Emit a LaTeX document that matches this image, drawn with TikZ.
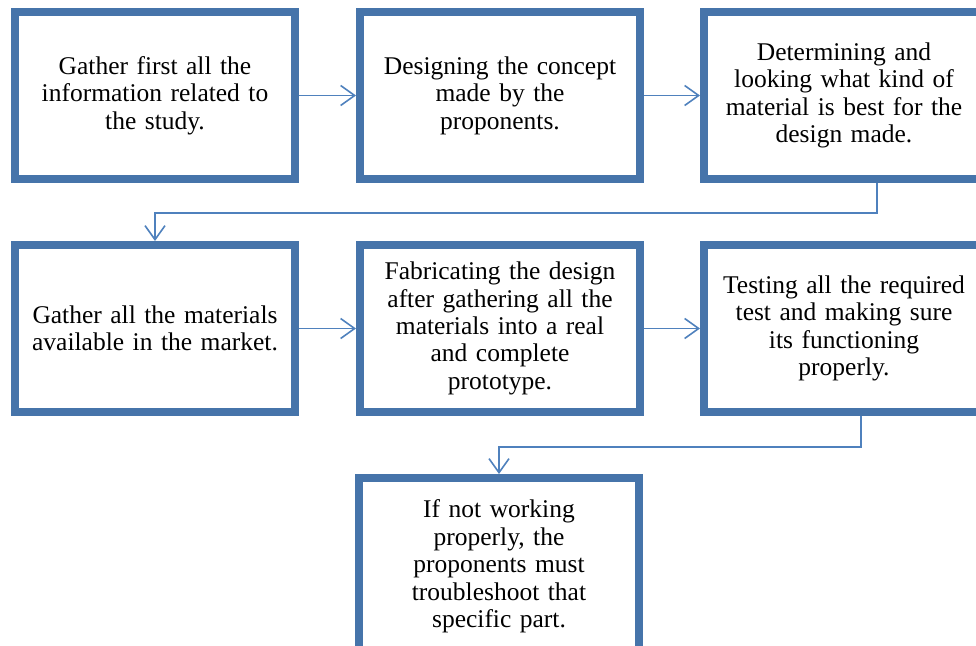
\documentclass[tikz,border=0pt]{standalone}
\usepackage{fontspec}
\setmainfont{Liberation Serif}
\usetikzlibrary{arrows.meta,shadows}
\definecolor{boxblue}{RGB}{70,116,170}
\definecolor{lineblue}{RGB}{79,129,189}

\begin{document}
\begin{tikzpicture}[x=1pt, y=-1pt,
    stage/.style={draw=boxblue, line width=8pt, fill=white, minimum width=280pt, minimum height=167pt,
        text width=276pt, align=center, inner sep=0pt, font=\fontsize{25.5}{27.4}\selectfont,
        drop shadow={shadow xshift=2pt, shadow yshift=-3pt, fill=black, opacity=.25}},
    link/.style={draw=lineblue, line width=1.6pt, -{Straight Barb[length=14pt,width=20pt]}}]
        \clip (0,0) rectangle (976,645);
        % First row
        \node[stage] (box1) at (155,95.5) {Gather first all the\\information related to\\the study.};
        \node[stage] (box2) at (500,95.5) {Designing the concept\\made by the\\proponents.};
        \node[stage] (box3) at (844,95.5) {Determining and\\looking what kind of\\material is best for the\\design made.};
        % Second row
        \node[stage] (box4) at (155,328.5) {Gather all the materials\\available in the market.};
        \node[stage] (box5) at (500,328.5) {Fabricating the design\\after gathering all the\\materials into a real\\and complete\\prototype.};
        \node[stage] (box6) at (844,328.5) {Testing all the required\\test and making sure\\its functioning\\properly.};
        % Last step (runs past the lower edge)
        \node[stage, minimum height=177pt, anchor=north] (box7) at (499,474) {If not working\\properly, the\\proponents must\\troubleshoot that\\specific part.};
        % Connectors
        \draw[link] (box1.east) -- (box2.west);
        \draw[link] (box2.east) -- (box3.west);
        \draw[link] ([xshift=33pt]box3.south) -- ++(0,30) -| (box4.north);
        \draw[link] (box4.east) -- (box5.west);
        \draw[link] (box5.east) -- (box6.west);
        \draw[link] ([xshift=17pt]box6.south) -- ++(0,31) -| (box7.north);
    \end{tikzpicture}
\end{document}
